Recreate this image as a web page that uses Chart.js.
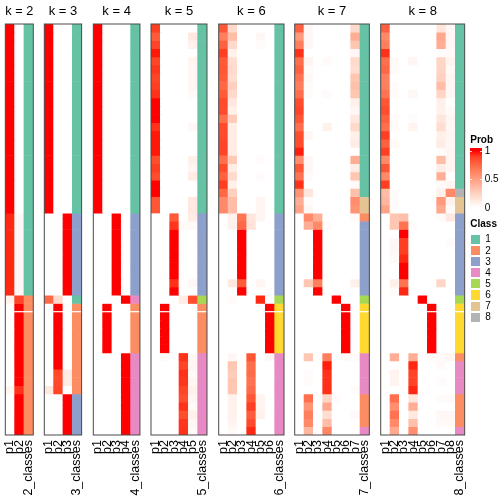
<!DOCTYPE html>
<html><head><meta charset="utf-8">
<script src="https://cdn.jsdelivr.net/npm/chart.js@4.4.1/dist/chart.umd.min.js"></script>
<style>
html,body{margin:0;padding:0;background:#fff;}
#wrap{position:relative;width:504px;height:504px;overflow:hidden;font-family:"Liberation Sans",Arial,sans-serif;}
#wrap canvas{position:absolute;top:0;}
.lg{position:absolute;font-size:10px;color:#000;line-height:10px;white-space:nowrap;}
.lgb{font-weight:bold;}
.sw{position:absolute;box-sizing:border-box;border:0.5px solid #fff;}
</style></head><body><div id="wrap"></div>
<script>
// ---------------- data ----------------
const kValues = [2, 3, 4, 5, 6, 7, 8];
const classColors = ['#66c2a5', '#fc8d62', '#8da0cb', '#e78ac3', '#a6d854', '#ffd92f', '#e5c494', '#b3b3b3'];
const classLabels = ['1', '2', '3', '4', '5', '6', '7', '8'];
const probTicks = ['1', '0.5', '0'];
const sliceBreak = 35;

const prob_k2 = [
 [1,1,1,1,1,1,1,1,1,1, 1,1,1,1,1,1,1,1,1,1, 1,1,1,0.95,0.95,0.95,0.95,0.95,0.95,0.95, 0.95,0.95,0.95,0.07,0,0,0,0,0,0, 0,0,0,0,0.05,0,0,0,0,0],
 [0,0,0,0,0,0,0,0,0,0, 0,0,0,0,0,0,0,0,0,0, 0,0,0,0.04,0.04,0.04,0.04,0.04,0.04,0.04, 0.04,0.04,0.04,0.88,1,1,1,1,1,1, 1,1,1,1,0.93,1,1,1,1,1]
];
const class_k2 = [1,1,1,1,1,1,1,1,1,1, 1,1,1,1,1,1,1,1,1,1, 1,1,1,1,1,1,1,1,1,1, 1,1,1,2,2,2,2,2,2,2, 2,2,2,2,2,2,2,2,2,2];

const prob_k3 = [
 [1,1,1,1,1,1,1,1,1,1, 1,1,1,1,1,1,1,1,1,1, 1,1,1,0,0,0,0,0,0,0, 0,0,0,0.75,0,0,0,0,0,0, 0,0,0,0,0.12,0,0,0,0,0],
 [0,0,0,0,0,0,0,0,0,0, 0,0,0,0,0,0,0,0,0,0, 0,0,0,0,0,0,0,0,0,0, 0,0,0,0.2,1,1,1,1,1,1, 1,1,0.87,0.87,0.88,0,0,0,0,0],
 [0,0,0,0,0,0,0,0,0,0, 0,0,0,0,0,0,0,0,0,0, 0,0,0,1,1,1,1,1,1,1, 1,1,1,0,0,0,0,0,0,0, 0,0,0.1,0.1,0,1,1,1,1,1]
];
const class_k3 = [1,1,1,1,1,1,1,1,1,1, 1,1,1,1,1,1,1,1,1,1, 1,1,1,3,3,3,3,3,3,3, 3,3,3,1,2,2,2,2,2,2, 2,2,2,2,2,3,3,3,3,3];

const prob_k4 = [
 [1,1,1,1,1,1,1,1,1,1, 1,1,1,1,1,1,1,1,1,1, 1,1,1,0,0,0,0,0,0,0, 0,0,0,0,0,0,0,0,0,0, 0,0,0,0,0,0,0,0,0,0],
 [0,0,0,0,0,0,0,0,0,0, 0,0,0,0,0,0,0,0,0,0, 0,0,0,0,0,0,0,0,0,0, 0,0,0,0,1,1,1,1,1,1, 0,0,0,0,0,0,0,0,0,0],
 [0,0,0,0,0,0,0,0,0,0, 0,0,0,0,0,0,0,0,0,0, 0,0,0,1,1,1,1,1,1,1, 1,1,1,0,0,0,0,0,0,0, 0,0,0,0,0,0,0,0,0,0],
 [0,0,0,0,0,0,0,0,0,0, 0,0,0,0,0,0,0,0,0,0, 0,0,0,0,0,0,0,0,0,0, 0,0,0,1,0,0,0,0,0,0, 1,1,1,1,1,1,1,1,1,1]
];
const class_k4 = [1,1,1,1,1,1,1,1,1,1, 1,1,1,1,1,1,1,1,1,1, 1,1,1,3,3,3,3,3,3,3, 3,3,3,4,2,2,2,2,2,2, 4,4,4,4,4,4,4,4,4,4];

const prob_k5 = [
 [0.9,0.8,0.88,0.98,0.88,0.92,0.88,0.9,0.93,1, 1,1,0.93,0.98,0.98,0.98,0.85,0.9,0.85,1, 1,0.82,0.82,0,0,0,0,0,0,0, 0,0,0,0,0,0,0,0,0,0, 0,0,0,0,0,0,0,0,0,0],
 [0,0,0,0,0,0,0,0,0,0, 0,0,0,0,0,0,0,0,0,0, 0,0,0,0,0,0,0,0,0,0, 0,0,0,0,1,1,1,1,1,1, 0.03,0,0,0,0,0,0,0,0,0],
 [0,0,0,0,0,0,0,0,0,0, 0,0,0,0,0,0,0,0,0,0, 0,0,0,0.8,0.92,1,1,1,1,1, 1,0.93,1,0,0,0,0,0,0,0, 0,0,0,0,0,0,0,0,0,0],
 [0,0,0,0,0,0,0,0,0,0, 0,0,0,0,0,0,0,0,0,0, 0,0,0,0,0.03,0,0,0,0,0, 0,0,0,0.1,0,0,0,0,0,0, 0.93,0.88,0.93,0.92,0.88,0.85,0.93,0.85,0.92,0.93],
 [0,0.12,0.07,0,0.06,0.04,0.05,0.05,0.03,0, 0,0,0.04,0,0,0,0.08,0.05,0.1,0, 0,0.12,0.12,0.1,0.03,0,0,0,0,0, 0,0.04,0,0.85,0,0,0,0,0,0, 0.04,0.05,0.03,0.05,0.08,0.05,0.03,0.08,0.04,0.03]
];
const class_k5 = [1,1,1,1,1,1,1,1,1,1, 1,1,1,1,1,1,1,1,1,1, 1,1,1,3,3,3,3,3,3,3, 3,3,3,5,2,2,2,2,2,2, 4,4,4,4,4,4,4,4,4,4];

const prob_k6 = [
 [0.82,0.65,0.78,0.9,0.8,0.82,0.8,0.75,0.8,0.86, 0.86,0.72,0.86,0.86,0.88,0.88,0.72,0.86,0.78,0.9, 0.75,0.6,0.6,0,0,0,0,0,0,0, 0,0,0,0,0,0,0,0,0,0, 0,0,0,0,0,0,0,0,0,0],
 [0.2,0.35,0.2,0.07,0.18,0.2,0.18,0.25,0.2,0.12, 0.08,0.27,0.1,0.1,0.1,0.1,0.28,0.1,0.2,0.08, 0.25,0.35,0.35,0.07,0.07,0,0,0,0,0, 0,0.12,0,0.02,0,0,0,0,0,0, 0.04,0.3,0.27,0.3,0.3,0.07,0.07,0.07,0.06,0.03],
 [0,0,0,0,0,0,0,0,0,0, 0,0,0,0,0,0,0,0,0,0, 0,0,0,0.7,0.75,1,1,1,1,1, 1,0.8,1,0,0,0,0,0,0,0, 0,0,0,0,0,0,0,0,0,0],
 [0,0,0,0,0,0,0,0,0,0, 0,0,0,0,0,0,0,0,0,0, 0,0,0,0.13,0.15,0,0,0,0,0, 0,0,0,0,0,0,0,0,0,0, 0.82,0.72,0.74,0.7,0.74,0.82,0.9,0.8,0.86,0.95],
 [0,0.04,0.02,0,0,0,0,0,0,0, 0,0,0,0,0,0,0.02,0,0.02,0, 0,0.05,0.05,0.05,0,0,0,0,0,0, 0,0.05,0,0.95,0,0,0,0,0,0, 0,0,0,0,0,0.06,0.06,0.07,0,0],
 [0,0,0,0,0,0,0,0,0,0, 0,0,0,0,0,0,0,0,0,0, 0,0,0,0,0,0,0,0,0,0, 0,0,0,0,1,1,1,1,1,1, 0.04,0,0,0,0,0,0,0,0,0]
];
const class_k6 = [1,1,1,1,1,1,1,1,1,1, 1,1,1,1,1,1,1,1,1,1, 1,1,1,3,3,3,3,3,3,3, 3,3,3,5,6,6,6,6,6,6, 4,4,4,4,4,4,4,4,4,4];

const prob_k7 = [
 [0.78,0.52,0.65,0.93,0.72,0.78,0.7,0.65,0.72,0.85, 0.88,0.82,0.72,0.85,0.85,0.97,0.58,0.82,0.7,0.93, 0.55,0.42,0.48,0,0,0,0,0,0,0, 0,0,0,0,0,0,0,0,0,0, 0,0,0,0,0,0,0,0,0,0],
 [0.04,0.04,0.04,0,0.06,0.02,0.04,0.02,0.02,0, 0,0,0,0.04,0,0,0.04,0.04,0.02,0, 0.13,0.02,0.04,0.6,0.42,0,0,0,0,0, 0,0.3,0,0,0,0,0,0,0,0, 0.3,0,0.02,0.02,0,0.72,0.55,0.65,0.6,0.38],
 [0,0,0,0,0,0,0,0,0,0, 0,0,0,0,0,0,0,0,0,0, 0,0,0,0.42,0.6,1,1,1,1,1, 1,0.65,1,0,0,0,0,0,0,0, 0,0,0,0,0,0,0,0,0,0],
 [0,0,0,0,0.03,0,0,0,0.02,0, 0,0,0.07,0,0,0,0,0,0,0, 0,0,0,0,0.02,0,0,0,0,0, 0,0,0,0,0,0,0,0,0,0, 0.65,0.97,0.93,0.93,0.93,0.22,0.45,0.18,0.35,0.62],
 [0,0,0,0,0,0,0,0,0,0, 0,0,0,0,0,0,0,0,0,0, 0,0,0,0,0,0,0,0,0,0, 0,0,0,1,0,0,0,0,0,0, 0,0,0,0,0,0.02,0,0,0,0],
 [0,0,0,0,0,0,0,0,0,0, 0,0,0,0,0,0,0,0,0,0, 0,0,0,0,0,0,0,0,0,0, 0,0,0,0,1,1,1,1,1,1, 0.03,0,0,0,0,0,0,0,0,0],
 [0.2,0.42,0.3,0.04,0.2,0.18,0.3,0.33,0.3,0.08, 0.04,0.12,0.2,0.08,0.1,0,0.42,0.1,0.3,0.03, 0.33,0.58,0.55,0.03,0,0,0,0,0,0, 0,0.08,0,0,0,0,0,0,0,0, 0.02,0,0,0,0.02,0,0,0.03,0,0]
];
const class_k7 = [1,1,1,1,1,1,1,1,1,1, 1,1,1,1,1,1,1,1,1,1, 1,7,7,2,3,3,3,3,3,3, 3,3,3,5,6,6,6,6,6,6, 4,4,4,4,4,2,2,2,2,4];

const prob_k8 = [
 [0.78,0.6,0.65,0.93,0.72,0.75,0.65,0.65,0.7,0.82, 0.85,0.78,0.72,0.9,0.78,0.9,0.6,0.82,0.6,0.9, 0.35,0.38,0.48,0,0,0,0,0,0,0, 0,0,0,0,0,0,0,0,0,0, 0,0,0,0,0,0,0,0,0,0],
 [0,0,0,0,0.03,0.02,0,0.02,0.02,0, 0,0.02,0.03,0,0.03,0,0,0,0,0, 0.02,0.02,0.02,0.3,0.3,0,0.04,0.04,0.03,0, 0,0.08,0.02,0,0,0,0,0,0,0, 0.42,0,0.06,0.06,0,0.72,0.58,0.7,0.6,0.45],
 [0,0,0,0,0,0,0,0,0,0, 0,0,0,0,0,0,0,0,0,0, 0,0,0,0.33,0.7,1,0.9,0.9,0.95,1, 1,0.7,0.95,0,0,0,0,0,0,0, 0,0,0,0,0,0,0,0,0,0],
 [0,0,0,0,0.05,0,0,0,0.04,0, 0,0.02,0.06,0,0,0,0,0,0,0, 0,0,0,0,0.02,0,0,0,0,0, 0,0,0,0,0,0,0,0,0,0, 0.42,0.95,0.88,0.88,0.95,0.13,0.42,0.12,0.33,0.58],
 [0,0,0,0,0,0,0,0,0,0, 0,0,0,0,0,0,0,0,0,0, 0,0,0,0,0,0,0,0,0,0, 0,0,0,1,0,0,0,0,0,0, 0,0,0,0,0,0,0,0,0,0],
 [0,0,0,0,0,0,0,0,0,0, 0,0,0,0,0,0,0,0,0,0, 0,0,0,0,0,0,0,0,0,0, 0,0,0,0,1,1,1,1,1,1, 0.03,0,0,0,0,0,0,0,0,0],
 [0.13,0.45,0.42,0.02,0.22,0.22,0.25,0.35,0.22,0.08, 0.07,0.13,0.18,0.08,0.1,0.02,0.35,0.1,0.42,0.03, 0.07,0.52,0.45,0.02,0,0,0,0,0,0, 0,0.22,0,0,0,0,0,0,0,0, 0.03,0.03,0,0.02,0,0.02,0,0.04,0.03,0],
 [0.04,0.04,0.04,0.03,0.06,0.03,0.05,0.04,0.04,0, 0.03,0.05,0.04,0.05,0.04,0.05,0.05,0.05,0,0.05, 0.6,0.07,0.03,0.12,0,0,0.02,0,0,0, 0,0,0,0,0,0,0,0,0,0, 0.05,0,0,0,0,0.03,0,0.04,0.03,0]
];
const class_k8 = [1,1,1,1,1,1,1,1,1,1, 1,1,1,1,1,1,1,1,1,1, 8,7,7,3,3,3,3,3,3,3, 3,3,3,5,6,6,6,6,6,6, 2,4,4,4,4,2,2,2,2,4];

const probByK = [prob_k2, prob_k3, prob_k4, prob_k5, prob_k6, prob_k7, prob_k8];
const classByK = [class_k2, class_k3, class_k4, class_k5, class_k6, class_k7, class_k8];

// ---------------- layout / style ----------------
const FONT = '"Liberation Sans", Arial, Helvetica, sans-serif';
const panelLeft = [5.3, 44.3, 93.3, 151, 218.7, 294.7, 380.7];
const COLW = 9.33;
const PAD = 18;
const CANVAS_H = 504;
const AXIS_H = 69;

// white -> red in CIE Lab
function toLin(c){ c/=255; return c<=0.04045 ? c/12.92 : Math.pow((c+0.055)/1.055, 2.4); }
function toS(c){ c=Math.max(0,Math.min(1,c)); return c<=0.0031308 ? 12.92*c : 1.055*Math.pow(c,1/2.4)-0.055; }
const Xn=0.95047, Yn=1, Zn=1.08883;
function f(t){ return t>0.008856 ? Math.cbrt(t) : 7.787*t+16/116; }
function finv(t){ const t3=t*t*t; return t3>0.008856 ? t3 : (t-16/116)/7.787; }
function rgb2lab(r,g,b){
  r=toLin(r); g=toLin(g); b=toLin(b);
  const X=0.4124*r+0.3576*g+0.1805*b, Y=0.2126*r+0.7152*g+0.0722*b, Z=0.0193*r+0.1192*g+0.9505*b;
  const fx=f(X/Xn), fy=f(Y/Yn), fz=f(Z/Zn);
  return [116*fy-16, 500*(fx-fy), 200*(fy-fz)];
}
function lab2rgb(L,a,bb){
  const fy=(L+16)/116, fx=fy+a/500, fz=fy-bb/200;
  const X=Xn*finv(fx), Y=Yn*finv(fy), Z=Zn*finv(fz);
  const r=3.2406*X-1.5372*Y-0.4986*Z, g=-0.9689*X+1.8758*Y+0.0415*Z, b=0.0557*X-0.2040*Y+1.0570*Z;
  return [Math.round(toS(r)*255), Math.round(toS(g)*255), Math.round(toS(b)*255)];
}
const LW = rgb2lab(255,255,255), LR = rgb2lab(255,0,0);
function probColor(v){
  const L=LW[0]+(LR[0]-LW[0])*v, a=LW[1]+(LR[1]-LW[1])*v, b=LW[2]+(LR[2]-LW[2])*v;
  const c=lab2rgb(L,a,b);
  return 'rgb('+c[0]+','+c[1]+','+c[2]+')';
}

const panelFrame = {
  id: 'panelFrame',
  afterDatasetsDraw(chart){
    const {ctx, chartArea:a} = chart;
    const y = chart.scales.y;
    ctx.save();
    ctx.fillStyle = '#ffffff';
    const yy = y.getPixelForValue(sliceBreak);
    ctx.fillRect(a.left, yy-0.6, a.right-a.left, 1.2);
    ctx.strokeStyle = '#4a4a4a';
    ctx.lineWidth = 1;
    ctx.strokeRect(a.left, a.top, a.right-a.left, a.bottom-a.top);
    ctx.restore();
  }
};

const wrap = document.getElementById('wrap');

kValues.forEach((k, pi) => {
  const prob = probByK[pi], cls = classByK[pi];
  const labels = prob.map((_, i) => 'p' + (i + 1)).concat([k + '_classes']);
  const w = labels.length * COLW;
  const left = panelLeft[pi];
  const cLeft = Math.floor(left - PAD);
  const cW = Math.ceil(left + w + PAD) - cLeft;
  const canvas = document.createElement('canvas');
  canvas.width = cW; canvas.height = CANVAS_H;
  canvas.style.left = cLeft + 'px';
  canvas.style.width = cW + 'px'; canvas.style.height = CANVAS_H + 'px';
  wrap.appendChild(canvas);
  const nRows = cls.length;
  const datasets = [];
  for (let r = 0; r < nRows; r++) {
    datasets.push({
      data: labels.map(() => [r, r + 1]),
      backgroundColor: labels.map((_, c) => c < prob.length ? probColor(prob[c][r]) : classColors[cls[r] - 1]),
      borderWidth: 0,
      grouped: false,
      barPercentage: 1,
      categoryPercentage: 1
    });
  }
  new Chart(canvas, {
    type: 'bar',
    data: { labels, datasets },
    options: {
      responsive: false, animation: false, devicePixelRatio: 1,
      events: [],
      layout: { padding: { left: left - cLeft, right: cLeft + cW - (left + w), top: 0, bottom: 0 } },
      plugins: {
        legend: { display: false },
        tooltip: { enabled: false },
        title: { display: true, text: 'k = ' + k, color: '#000',
                 font: { family: FONT, size: 13, weight: 'normal', lineHeight: 1.2 },
                 padding: { top: 4, bottom: 4.4 } }
      },
      scales: {
        x: {
          grid: { display: false, drawTicks: false },
          border: { display: false },
          ticks: { color: '#000', font: { family: FONT, size: 12.5 }, minRotation: 90, maxRotation: 90, padding: 5, autoSkip: false },
          afterFit(s) { s.height = AXIS_H; }
        },
        y: { display: false, min: 0, max: nRows, reverse: true }
      }
    },
    plugins: [panelFrame]
  });
});

// ---------------- legends ----------------
function addDiv(cls, text, l, t, extra){
  const d = document.createElement('div');
  d.className = cls; d.textContent = text;
  d.style.left = l + 'px'; d.style.top = t + 'px';
  if (extra) Object.assign(d.style, extra);
  wrap.appendChild(d);
  return d;
}
addDiv('lg lgb', 'Prob', 470.3, 135);
// gradient bar
const stops = [];
for (let i = 0; i <= 10; i++) { const v = 1 - i/10; stops.push(probColor(v) + ' ' + (i*10) + '%'); }
const barTop = 151, barBot = 207.6, ext = 2.8;
const bar = addDiv('lg', '', 470.3, barTop - ext, {width:'11.7px', height:(barBot-barTop+2*ext)+'px',
  background: 'linear-gradient(to bottom, ' + probColor(1) + ' 0%, ' +
   stops.map((s,i)=>probColor(1-i/10)+' '+((ext + (barBot-barTop)*i/10)/(barBot-barTop+2*ext)*100).toFixed(2)+'%').join(', ') +
   ', ' + probColor(0) + ' 100%)'});
probTicks.forEach((t, i) => {
  const y = barTop + (barBot - barTop) * i / (probTicks.length - 1);
  addDiv('lg', '', 470.3, y - 0.5, {width:'2px', height:'1px', background:'rgba(255,255,255,0.8)'});
  addDiv('lg', '', 480, y - 0.5, {width:'2px', height:'1px', background:'rgba(255,255,255,0.8)'});
  addDiv('lg', t, 484.7, y - 5);
});
addDiv('lg lgb', 'Class', 470.3, 218.5);
const swTop = 233.8, swH = 11.13;
classLabels.forEach((t, i) => {
  addDiv('sw', '', 470.3, swTop + i*swH, {width:'11px', height:swH+'px', background: classColors[i]});
  addDiv('lg', t, 485.3, swTop + i*swH + 0.6);
});
</script></body></html>
